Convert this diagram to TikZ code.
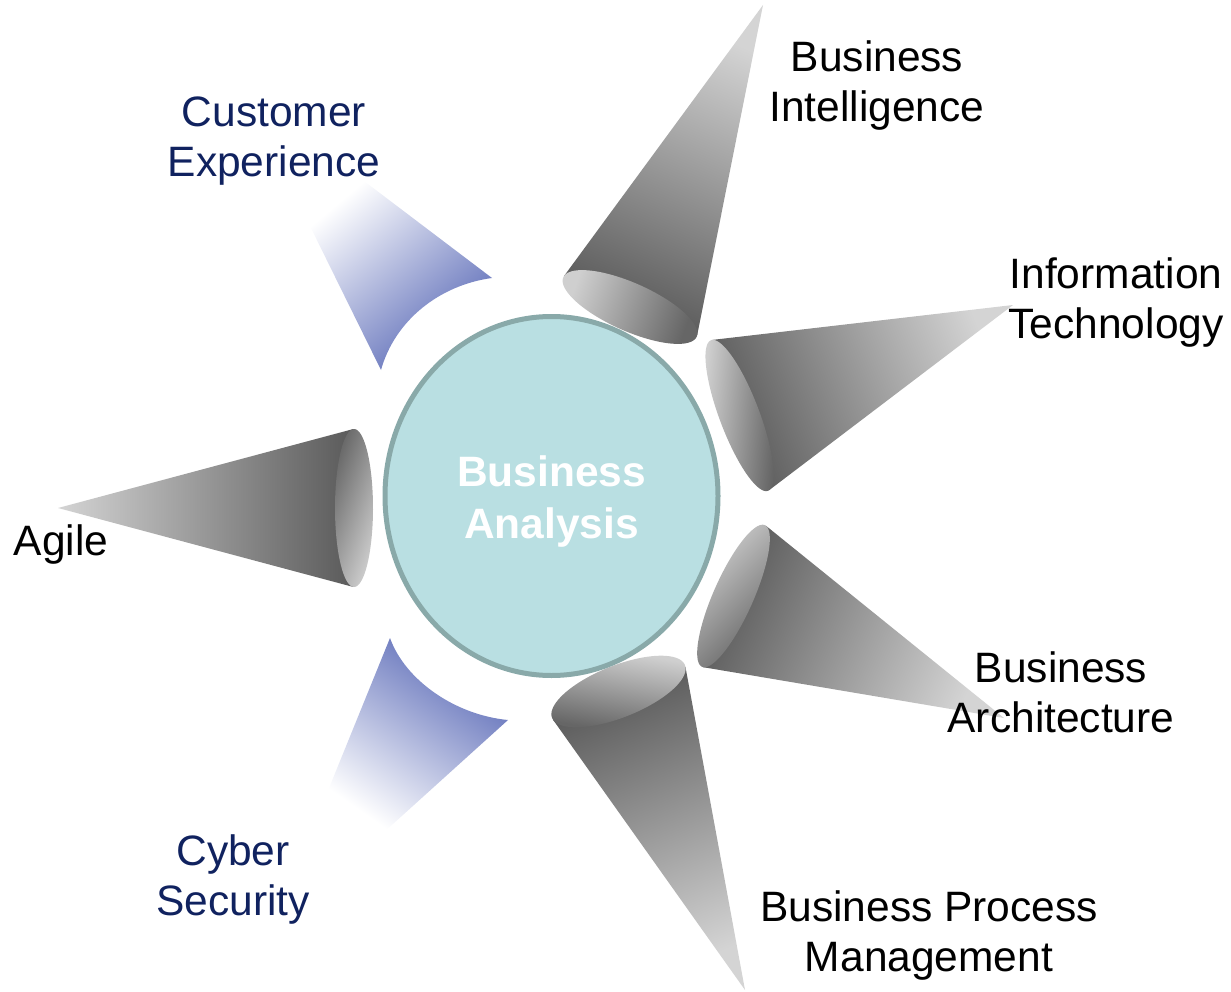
\documentclass[tikz,border=0pt]{standalone}
\usepackage{fontspec}
\setmainfont{Liberation Sans}
\usetikzlibrary{shapes.geometric}
\definecolor{conelight}{HTML}{D4D4D4}
\definecolor{conedark}{HTML}{5A5A5A}
\definecolor{facelight}{HTML}{CFCFCF}
\definecolor{facedark}{HTML}{666666}
\definecolor{bluecone}{HTML}{5868B6}
\definecolor{navy}{HTML}{10225F}
\definecolor{hubfill}{HTML}{B9DFE2}
\definecolor{hubline}{HTML}{89A9A9}
\tikzset{
  lab/.style={font=\fontsize{42.5}{50}\selectfont, align=center, inner sep=0pt},
  navylab/.style={lab, text=navy},
  hub/.style={ellipse, draw=hubline, line width=5pt, fill=hubfill,
    minimum width=333pt, minimum height=359pt, inner sep=0pt},
  hubtext/.style={text=white, font=\fontsize{42.5}{52}\selectfont\bfseries,
    align=center, inner sep=0pt},
  bluefan/.style={top color=bluecone, bottom color=white}
}
% #1 cx, #2 cy, #3 a, #4 b, #5 phi (image deg), #6 px, #7 py, #8 face shading angle
\newcommand\gcone[8]{%
  \pgfmathsetmacro\gcUx{cos(#5)}%
  \pgfmathsetmacro\gcUy{sin(#5)}%
  \pgfmathsetmacro\gcDu{((#6)-(#1))*\gcUx+((#7)-(#2))*\gcUy}%
  \pgfmathsetmacro\gcDv{-((#6)-(#1))*\gcUy+((#7)-(#2))*\gcUx}%
  \pgfmathsetmacro\gcTh{atan2(\gcDv/(#4),\gcDu/(#3))}%
  \pgfmathsetmacro\gcR{sqrt((\gcDu/(#3))^2+(\gcDv/(#4))^2)}%
  \pgfmathsetmacro\gcAl{acos(1/\gcR)}%
  \pgfmathsetmacro\gcTa{\gcTh+\gcAl}%
  \pgfmathsetmacro\gcTb{\gcTh-\gcAl}%
  \pgfmathsetmacro\gcAx{(#1)+(#3)*cos(\gcTa)*\gcUx-(#4)*sin(\gcTa)*\gcUy}%
  \pgfmathsetmacro\gcAy{(#2)+(#3)*cos(\gcTa)*\gcUy+(#4)*sin(\gcTa)*\gcUx}%
  \pgfmathsetmacro\gcBx{(#1)+(#3)*cos(\gcTb)*\gcUx-(#4)*sin(\gcTb)*\gcUy}%
  \pgfmathsetmacro\gcBy{(#2)+(#3)*cos(\gcTb)*\gcUy+(#4)*sin(\gcTb)*\gcUx}%
  \pgfmathsetmacro\gcAng{atan2(-((#7)-(#2)),(#6)-(#1))-90}%
  \shade[top color=conelight, bottom color=conedark, shading angle=\gcAng]
    (#6,#7) -- (\gcAx,\gcAy) -- (\gcBx,\gcBy) -- cycle;
  \shade[top color=facelight, bottom color=facedark, shading angle=#8]
    plot[domain=0:360, samples=90, variable=\t]
    ({(#1)+(#3)*cos(\t)*\gcUx-(#4)*sin(\t)*\gcUy},
     {(#2)+(#3)*cos(\t)*\gcUy+(#4)*sin(\t)*\gcUx}) -- cycle;
}
\begin{document}
\begin{tikzpicture}[x=1pt,y=-1pt]
\useasboundingbox (0,0) rectangle (1231,992);
% blue fans
\shade[bluefan, shading angle=-140]
  (307,220) -- (360,178) -- (492,278)
  .. controls (440,285) and (395,320) .. (381,370) -- cycle;
\shade[bluefan, shading angle=-35]
  (390,638) .. controls (405,680) and (455,715) .. (508,720)
  -- (383,833) -- (327,793) -- cycle;
% gray cones
\gcone{630}{307}{73}{24}{24}{763}{5}{70}
\gcone{739.5}{415.5}{80.5}{20}{69.3}{1013}{305}{85}
\gcone{733.5}{596}{77.5}{20}{113.9}{1004}{718}{45}
\gcone{618.5}{691.5}{71.5}{26}{-21.7}{745}{990}{-10}
\gcone{354}{508}{79}{19}{90}{58}{508}{-110}
% hub
\node[hub] (ba) at (551.5,496) {};
\node[hubtext] (batext) at (551.5,502) {Business\\Analysis};
% labels
\node[navylab] (ce) at (274,141.5) {Customer\\Experience};
\node[lab] (bi) at (877,86) {Business\\Intelligence};
\node[lab] (it) at (1116,303) {Information\\Technology};
\node[lab] (bar) at (1061,692) {Business\\Architecture};
\node[lab] (bpm) at (929,936) {Business Process\\Management};
\node[lab] (ag) at (61,545) {Agile};
\node[navylab] (cs) at (233,880) {Cyber\\Security};
\end{tikzpicture}
\end{document}
